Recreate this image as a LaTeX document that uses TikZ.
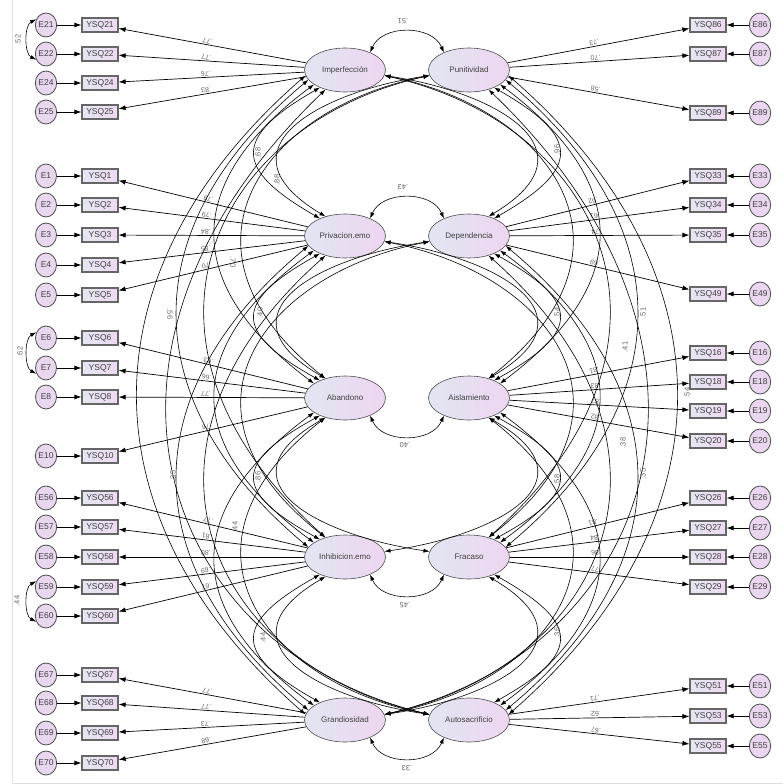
\documentclass[tikz,border=0pt]{standalone}
\usepackage{fontspec}
\setmainfont{Liberation Sans}
\usetikzlibrary{arrows.meta,shapes.geometric}
\definecolor{facL}{RGB}{225,230,241}
\definecolor{facR}{RGB}{238,213,241}
\definecolor{boxL}{RGB}{228,231,241}
\definecolor{boxR}{RGB}{238,218,241}
\definecolor{errF}{RGB}{233,215,239}
\tikzset{
  fac/.style={ellipse, draw=black!70, line width=0.6pt, minimum width=81pt, minimum height=44pt,
    inner sep=0pt, left color=facL, right color=facR, font=\fontsize{8}{9}\selectfont, text=black!75},
  ind/.style={rectangle, draw=black!60, line width=1.2pt, minimum width=36pt, minimum height=14pt,
    inner sep=0pt, left color=boxL, right color=boxR, font=\fontsize{8.5}{9}\selectfont, text=black!75},
  err/.style={ellipse, draw=black!70, line width=0.8pt, minimum width=21pt, minimum height=24pt,
    inner sep=0pt, fill=errF, font=\fontsize{8.5}{9}\selectfont, text=black!75},
  ld/.style={-{Latex[length=7pt,width=5pt]}, line width=0.7pt},
  rld/.style={{Latex[length=7pt,width=5pt]}-, line width=0.7pt},
  cv/.style={{Latex[length=6pt,width=4.2pt]}-{Latex[length=6pt,width=4.2pt]}, line width=0.6pt},
  lab/.style={font=\fontsize{7}{7.5}\selectfont, text=black!60, inner sep=0.8pt},
  clab/.style={font=\fontsize{7.5}{8}\selectfont, text=black!60, inner sep=0.5pt},
}
\begin{document}
\begin{tikzpicture}[x=1pt,y=-1pt]
\useasboundingbox (0,0) rectangle (783,784);
\draw[black!12, line width=0.8pt] (12,0) -- (12,783) -- (783,783);
% latent factors
\node[fac] (L1) at (345,70) {Imperfección};
\node[fac] (R1) at (469,70) {Punitividad};
\node[fac] (L2) at (345,236) {Privacion.emo};
\node[fac] (R2) at (469,236) {Dependencia};
\node[fac] (L3) at (345,398) {Abandono};
\node[fac] (R3) at (469,398) {Aislamiento};
\node[fac] (L4) at (345,557) {Inhibicion.emo};
\node[fac] (R4) at (469,557) {Fracaso};
\node[fac] (L5) at (345,720) {Grandiosidad};
\node[fac] (R5) at (469,720) {Autosacrificio};
% left indicators
\foreach \n/\y/\f/\v in {21/25/L1/.77, 22/54/L1/.77, 24/83/L1/.76, 25/112/L1/.83,
  1/176/L2/.79, 2/205/L2/.79, 3/235/L2/.84, 4/265/L2/.85, 5/295/L2/.70,
  6/338/L3/.63, 7/368/L3/.66, 8/397/L3/.77, 10/456/L3/.76,
  56/498/L4/.77, 57/527/L4/.81, 58/557/L4/.80, 59/587/L4/.69, 60/616/L4/.67,
  67/675/L5/.77, 68/703/L5/.77, 69/733/L5/.73, 70/763/L5/.68} {
  \node[ind] (b\n) at (100,\y) {YSQ\n};
  \node[err] (e\n) at (46,\y) {E\n};
  \draw[ld] (e\n) -- (b\n);
  \draw[ld] (\f) -- (b\n) node[lab, pos=0.53, sloped, allow upside down, below] {\v};
}
% right indicators
\foreach \n/\y/\f/\v in {86/25/R1/.73, 87/54/R1/.70, 89/113/R1/.58,
  33/176/R2/.62, 34/205/R2/.61, 35/235/R2/.74, 49/294/R2/.69,
  16/353/R3/.81, 18/382/R3/.83, 19/411/R3/.87, 20/441/R3/.82,
  26/498/R4/.81, 27/528/R4/.84, 28/557/R4/.86, 29/587/R4/.77,
  51/686/R5/.71, 53/716/R5/.62, 55/746/R5/.67} {
  \node[ind] (b\n) at (708,\y) {YSQ\n};
  \node[err] (e\n) at (760,\y) {E\n};
  \draw[ld] (e\n) -- (b\n);
  \draw[rld] (b\n) -- (\f) node[lab, pos=0.52, sloped, allow upside down, below] {\v};
}
% error covariances
\draw[cv] (e21.150) .. controls +(-12,6) and +(-12,-6) .. (e22.210);
\draw[cv] (e6.150) .. controls +(-12,6) and +(-12,-6) .. (e7.210);
\draw[cv] (e59.150) .. controls +(-12,6) and +(-12,-6) .. (e60.210);
\node[clab, rotate=90] (k52) at (18,40) {.52};
\node[clab, rotate=90] (k62) at (20,352) {.62};
\node[clab, rotate=90] (k44) at (17,601) {.44};
% same-row covariances
\foreach \a in {1,2} {
  \draw[cv] (L\a.35) .. controls +(12,-28) and +(-12,-28) .. (R\a.145);
}
\foreach \a in {3,4,5} {
  \draw[cv] (L\a.-35) .. controls +(12,28) and +(-12,28) .. (R\a.-145);
}
% same-column covariances
\foreach \a/\b/\la/\lb/\ra/\rb/\k/\dy in {1/2/215/145/-35/35/87/166, 2/3/215/145/-35/35/87/162,
  3/4/215/145/-35/35/87/159, 4/5/215/145/-35/35/87/163,
  1/3/205/155/-25/25/132/328, 2/4/205/155/-25/25/132/321, 3/5/205/155/-25/25/132/322,
  1/4/195/165/-15/15/175/487, 2/5/195/165/-15/15/175/484, 1/5/188/172/-8/8/224/650} {
  \draw[cv] (L\a.\la) .. controls +(-\k,0.3*\dy) and +(-\k,-0.3*\dy) .. (L\b.\lb);
  \draw[cv] (R\a.\ra) .. controls +(\k,0.3*\dy) and +(\k,-0.3*\dy) .. (R\b.\rb);
}
% cross covariances, from the upper factor's inner side
\foreach \a/\b/\c/\dy in {1/2/111/166, 1/3/165/328, 2/3/111/162, 1/4/218/487, 2/4/165/321} {
  \draw[cv] (L\a.-8) .. controls +(\c,0.1*\dy) and +(\c,-0.4*\dy) .. (R\b.45);
  \draw[cv] (R\a.188) .. controls +(-\c,0.1*\dy) and +(-\c,-0.4*\dy) .. (L\b.135);
}
% cross covariances, from the lower factor's inner side
\foreach \a/\b/\c/\dy in {3/4/111/159, 3/5/165/322, 4/5/111/163, 1/5/271/650, 2/5/218/484} {
  \draw[cv] (R\b.172) .. controls +(-\c,-0.1*\dy) and +(-\c,0.4*\dy) .. (L\a.-135);
  \draw[cv] (L\b.8) .. controls +(\c,-0.1*\dy) and +(\c,0.4*\dy) .. (R\a.-45);
}
% covariance labels
\node[clab, rotate=180] (c51) at (403,21) {.51};
\node[clab, rotate=180] (c43) at (403,187) {.43};
\node[clab, rotate=180] (c40) at (405,445) {.40};
\node[clab, rotate=180] (c45) at (405,605) {.45};
\node[clab, rotate=180] (c33) at (407,768) {.33};
\node[clab, rotate=90] (d1) at (258,153) {.68};
\node[clab, rotate=90] (d2) at (260,313) {.40};
\node[clab, rotate=90] (d3) at (258,477) {.86};
\node[clab, rotate=90] (d4) at (263,638) {.44};
\node[clab, rotate=-90] (d5) at (170,314) {.56};
\node[clab, rotate=90] (d6) at (173,476) {.35};
\node[clab, rotate=-90] (d7) at (233,262) {.70};
\node[clab, rotate=90] (d8) at (235,527) {.44};
\node[clab, rotate=90] (d18) at (277,180) {.88};
\node[clab, rotate=90] (d9) at (557,150) {.96};
\node[clab, rotate=90] (d10) at (557,313) {.54};
\node[clab, rotate=90] (d11) at (557,480) {.58};
\node[clab, rotate=90] (d12) at (557,633) {.36};
\node[clab, rotate=90] (d13) at (643,313) {.51};
\node[clab, rotate=90] (d14) at (643,474) {.35};
\node[clab, rotate=90] (d15) at (687,393) {.54};
\node[clab, rotate=90] (d16) at (625,347) {.41};
\node[clab, rotate=90] (d17) at (623,443) {.38};
\end{tikzpicture}
\end{document}
